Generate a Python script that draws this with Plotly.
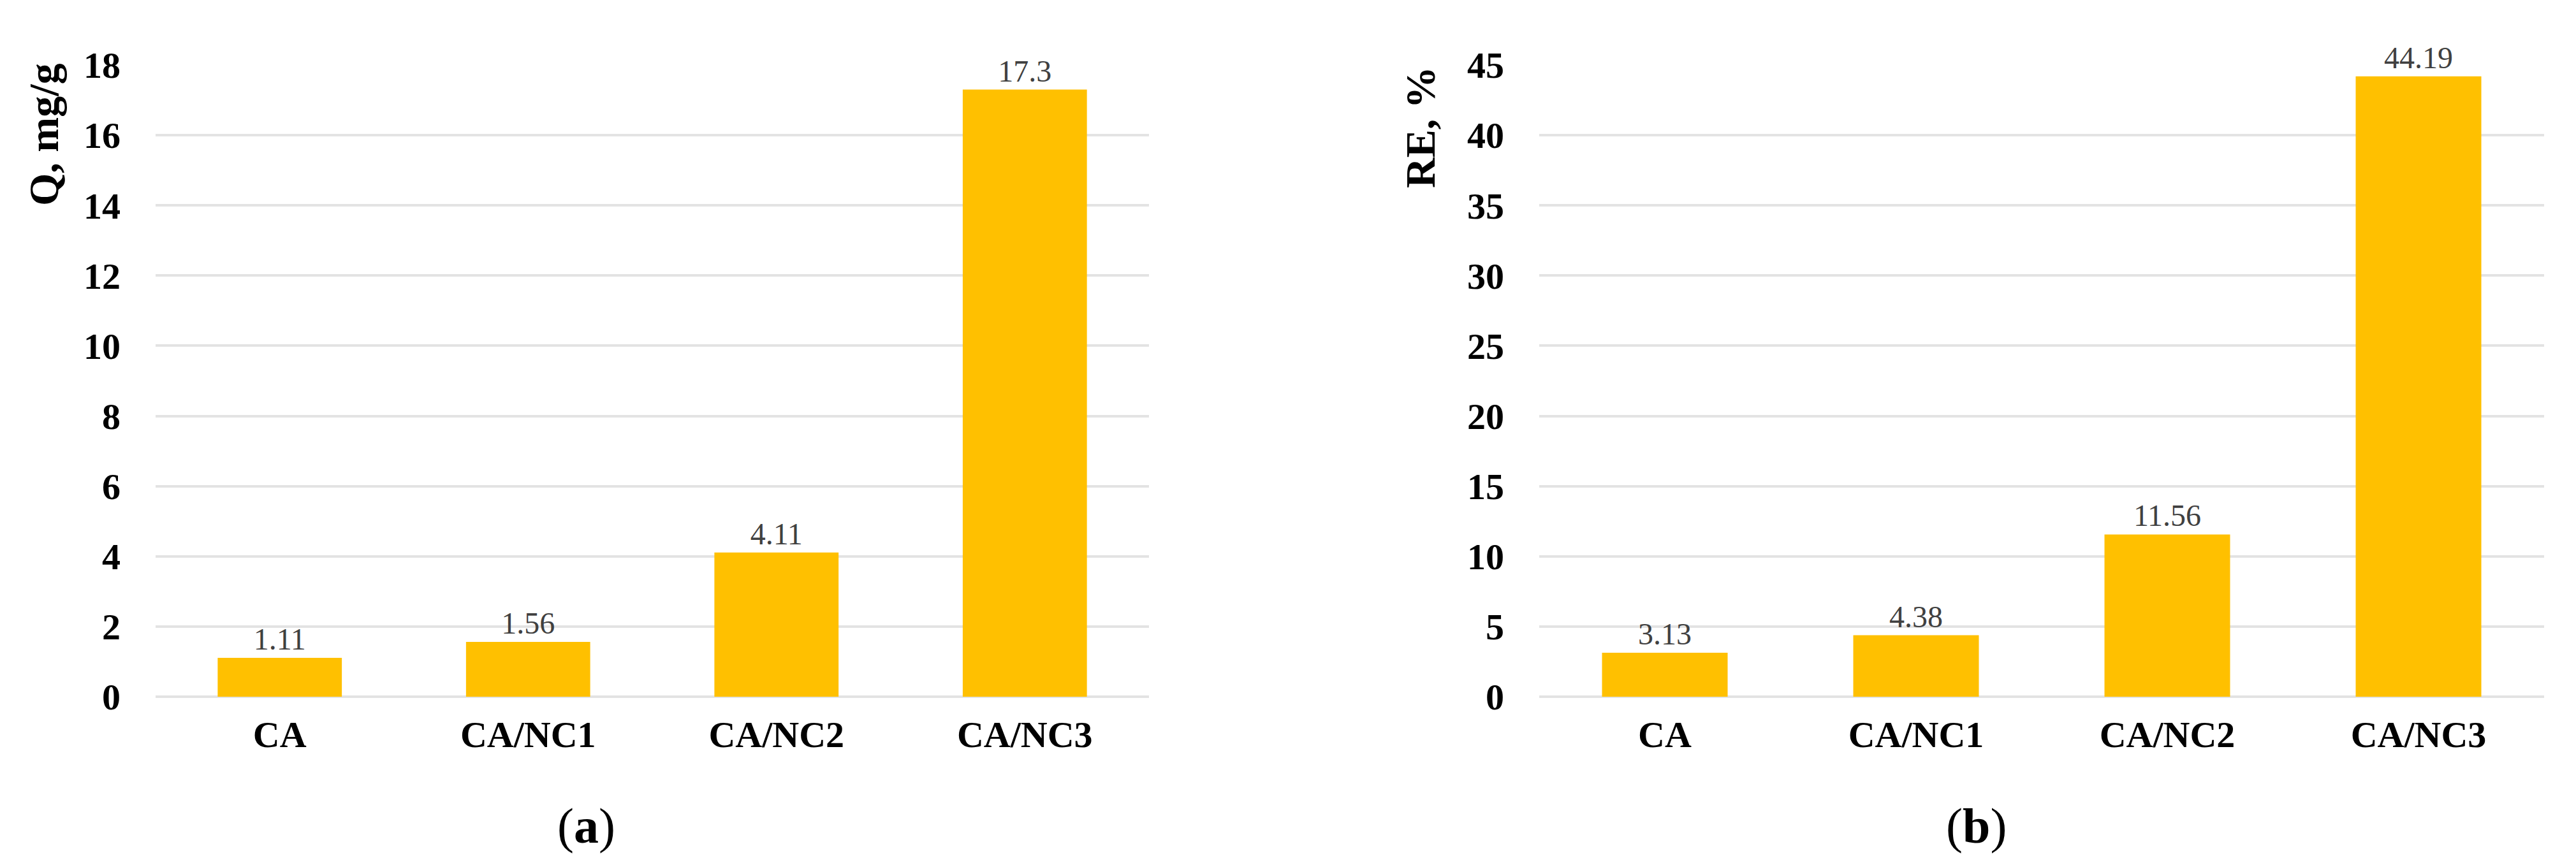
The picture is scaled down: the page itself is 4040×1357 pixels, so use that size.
import plotly.graph_objects as go

# data
categories = ["CA", "CA/NC1", "CA/NC2", "CA/NC3"]
q_values = [1.11, 1.56, 4.11, 17.3]
re_values = [3.13, 4.38, 11.56, 44.19]
q_labels = ["1.11", "1.56", "4.11", "17.3"]
re_labels = ["3.13", "4.38", "11.56", "44.19"]

W, H = 4040, 1357
BAR = "#FFC000"
GRID = "#e3e3e3"
SERIF = "Liberation Serif"


def px_x(v):
    return v / W


def px_y(v):
    return 1 - v / H


fig = go.Figure()

fig.add_trace(go.Bar(
    x=categories, y=q_values, text=q_labels, textposition="outside",
    marker=dict(color=BAR, line=dict(width=0)),
    textfont=dict(family=SERIF, size=48, color="#404040"),
    cliponaxis=False, xaxis="x", yaxis="y", showlegend=False,
))
fig.add_trace(go.Bar(
    x=categories, y=re_values, text=re_labels, textposition="outside",
    marker=dict(color=BAR, line=dict(width=0)),
    textfont=dict(family=SERIF, size=48, color="#404040"),
    cliponaxis=False, xaxis="x2", yaxis="y2", showlegend=False,
))

y_dom = [px_y(1085), px_y(94)]
tick_font = dict(family=SERIF, size=58, color="black", weight="bold")

xcommon = dict(showgrid=False, showline=False, ticks="", tickfont=tick_font,
               ticklabelstandoff=20, fixedrange=True, automargin=False)
ycommon = dict(showgrid=True, gridcolor=GRID, gridwidth=4, zeroline=True,
               zerolinecolor=GRID, zerolinewidth=4, showline=False, ticks="",
               tickfont=tick_font, ticklabelstandoff=54, automargin=False)

fig.update_layout(
    width=W, height=H,
    margin=dict(l=0, r=0, t=0, b=0, autoexpand=False),
    paper_bgcolor="white", plot_bgcolor="white",
    bargap=0.5,
    xaxis=dict(domain=[px_x(236), px_x(1794)], anchor="y", **xcommon),
    yaxis=dict(domain=y_dom, anchor="x", range=[0, 18], dtick=2, **ycommon),
    xaxis2=dict(domain=[px_x(2406), px_x(3982)], anchor="y2", **xcommon),
    yaxis2=dict(domain=y_dom, anchor="x2", range=[0, 45], dtick=5, **ycommon),
)

annots = [
    dict(text="Q, mg/g", x=px_x(60), y=px_y(203)),
    dict(text="RE, %", x=px_x(2220), y=px_y(192)),
]
for a in annots:
    fig.add_annotation(
        text=a["text"], x=a["x"], y=a["y"], xref="paper", yref="paper",
        textangle=-90, showarrow=False, xanchor="center", yanchor="middle",
        font=dict(family=SERIF, size=66, color="black", weight="bold"),
    )

for txt, cx in [("(<b>a</b>)", 911), ("(<b>b</b>)", 3091)]:
    fig.add_annotation(
        text=txt, x=px_x(cx), y=px_y(1287), xref="paper", yref="paper",
        showarrow=False, xanchor="center", yanchor="middle",
        font=dict(family=SERIF, size=78, color="black"),
    )

fig.write_html("out.html")
